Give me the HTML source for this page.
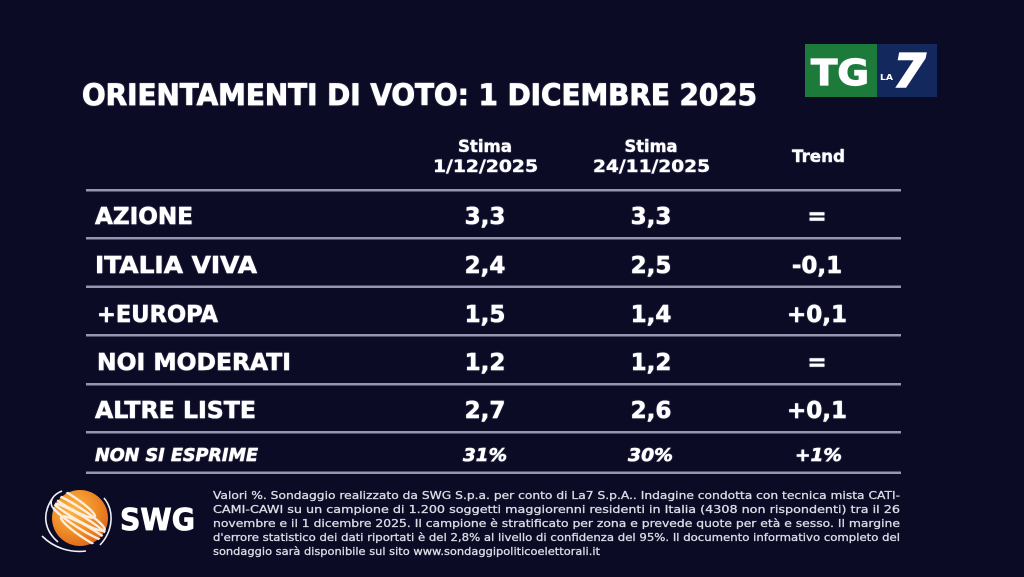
<!DOCTYPE html>
<html>
<head>
<meta charset="utf-8">
<style>
  html,body{margin:0;padding:0;background:#0b0b25;}
  body{width:1024px;height:577px;overflow:hidden;}
  svg{display:block;}
</style>
</head>
<body>
<svg width="1024" height="577" viewBox="0 0 1024 577" xmlns="http://www.w3.org/2000/svg">
  <defs>
    <radialGradient id="og" cx="0.38" cy="0.35" r="0.75">
      <stop offset="0" stop-color="#fbb548"/>
      <stop offset="0.55" stop-color="#f08c27"/>
      <stop offset="1" stop-color="#d8621a"/>
    </radialGradient>
    <clipPath id="globeClip"><circle cx="80" cy="518" r="29"/></clipPath>
    <filter id="glow" x="-5%" y="-20%" width="110%" height="140%">
      <feGaussianBlur in="SourceAlpha" stdDeviation="0.8" result="b"/>
      <feFlood flood-color="#8890c0" flood-opacity="0.5"/>
      <feComposite in2="b" operator="in" result="s"/>
      <feMerge><feMergeNode in="s"/><feMergeNode in="SourceGraphic"/></feMerge>
    </filter>
  </defs>

  <rect width="1024" height="577" fill="#0b0b25"/>

  <!-- TG LA7 logo -->
  <rect x="805" y="44" width="72" height="53" fill="#1c7a3b"/>
  <rect x="877" y="44" width="60" height="53" fill="#13295d"/>
  <text x="811" y="85" font-family="'DejaVu Sans','Liberation Sans',sans-serif" font-weight="bold" font-size="36" fill="#fff" stroke="#fff" stroke-width="1.2" textLength="58" lengthAdjust="spacingAndGlyphs">TG</text>
  <text x="880" y="80" font-family="'DejaVu Sans','Liberation Sans',sans-serif" font-weight="bold" font-size="8" fill="#fff" textLength="13" lengthAdjust="spacingAndGlyphs">LA</text>
  <text x="893" y="87" font-family="'DejaVu Sans','Liberation Sans',sans-serif" font-weight="bold" font-style="italic" font-size="46" fill="#fff" stroke="#fff" stroke-width="1.5" textLength="33" lengthAdjust="spacingAndGlyphs">7</text>

  <g font-family="'DejaVu Sans','Liberation Sans',sans-serif" font-weight="bold" fill="#ffffff" stroke="#ffffff" stroke-width="0.5" filter="url(#glow)">
    <!-- Title -->
    <text x="82" y="105" font-size="29" stroke-width="0.8" textLength="675" lengthAdjust="spacingAndGlyphs">ORIENTAMENTI DI VOTO: 1 DICEMBRE 2025</text>

    <!-- Header -->
    <g stroke-width="0.3">
    <text x="485" y="152" font-size="16.5" text-anchor="middle" textLength="54" lengthAdjust="spacingAndGlyphs">Stima</text>
    <text x="485.5" y="172" font-size="16.5" text-anchor="middle" textLength="105" lengthAdjust="spacingAndGlyphs">1/12/2025</text>
    <text x="651" y="152" font-size="16.5" text-anchor="middle" textLength="53" lengthAdjust="spacingAndGlyphs">Stima</text>
    <text x="651.5" y="172" font-size="16.5" text-anchor="middle" textLength="117" lengthAdjust="spacingAndGlyphs">24/11/2025</text>
    <text x="818.5" y="162" font-size="16.5" text-anchor="middle" textLength="53" lengthAdjust="spacingAndGlyphs">Trend</text>
    </g>

    <!-- Row labels -->
    <text x="95" y="224" font-size="23" textLength="98" lengthAdjust="spacingAndGlyphs">AZIONE</text>
    <text x="95" y="273" font-size="23" textLength="162" lengthAdjust="spacingAndGlyphs">ITALIA VIVA</text>
    <text x="97" y="322" font-size="23" textLength="121" lengthAdjust="spacingAndGlyphs">+EUROPA</text>
    <text x="97" y="370" font-size="23" textLength="194" lengthAdjust="spacingAndGlyphs">NOI MODERATI</text>
    <text x="95" y="418" font-size="23" textLength="161" lengthAdjust="spacingAndGlyphs">ALTRE LISTE</text>
    <text x="95" y="461" font-size="17.5" font-style="italic" textLength="163" lengthAdjust="spacingAndGlyphs">NON SI ESPRIME</text>

    <!-- Values -->
    <g font-size="23" text-anchor="middle">
      <text x="485" y="224">3,3</text><text x="651" y="224">3,3</text><text x="817" y="224">=</text>
      <text x="485" y="273">2,4</text><text x="651" y="273">2,5</text><text x="817" y="273">-0,1</text>
      <text x="485" y="322">1,5</text><text x="651" y="322">1,4</text><text x="817" y="322">+0,1</text>
      <text x="485" y="370">1,2</text><text x="651" y="370">1,2</text><text x="817" y="370">=</text>
      <text x="485" y="418">2,7</text><text x="651" y="418">2,6</text><text x="817" y="418">+0,1</text>
    </g>
    <g font-size="17.5" font-style="italic" text-anchor="middle">
      <text x="485" y="461" textLength="44" lengthAdjust="spacingAndGlyphs">31%</text>
      <text x="650.5" y="461" textLength="45" lengthAdjust="spacingAndGlyphs">30%</text>
      <text x="818.5" y="461" textLength="47" lengthAdjust="spacingAndGlyphs">+1%</text>
    </g>
  </g>

  <!-- Separator lines -->
  <g fill="#9496b2">
    <rect x="86" y="189" width="815" height="2.5"/>
    <rect x="86" y="237" width="815" height="2.5"/>
    <rect x="86" y="285.5" width="815" height="2.5"/>
    <rect x="86" y="334" width="815" height="2.5"/>
    <rect x="86" y="383" width="815" height="2.5"/>
    <rect x="86" y="431" width="815" height="2.5"/>
    <rect x="86" y="471.5" width="815" height="2.5"/>
  </g>

  <!-- SWG logo -->
  <circle cx="80" cy="518" r="28" fill="url(#og)"/>
  <g clip-path="url(#globeClip)" fill="none" stroke="#fff3e6" stroke-width="2.4" opacity="0.95">
    <ellipse cx="66" cy="499" rx="34" ry="6" transform="rotate(32 66 499)"/>
    <ellipse cx="74" cy="511" rx="36" ry="6" transform="rotate(32 74 511)"/>
    <ellipse cx="82" cy="523" rx="36" ry="6" transform="rotate(32 82 523)"/>
    <ellipse cx="90" cy="535" rx="34" ry="6" transform="rotate(32 90 535)"/>
  </g>
  <g fill="none" stroke="#f0f0f6" stroke-width="1.6">
    <path d="M 62 491 C 50 496, 48 505, 56 511"/>
    <path d="M 52 499 C 42 514, 44 530, 58 542"/>
    <path d="M 104 498 C 114 510, 114 530, 100 545"/>
    <path d="M 42 536 C 54 548, 70 553, 86 551"/>
  </g>
  <text x="120" y="530" font-family="'DejaVu Sans','Liberation Sans',sans-serif" font-weight="bold" font-size="30" fill="#fff" stroke="#fff" stroke-width="0.8" textLength="75" lengthAdjust="spacingAndGlyphs">SWG</text>

  <!-- Footer text -->
  <g font-family="'DejaVu Sans','Liberation Sans',sans-serif" font-size="11" fill="#dcdce6" stroke="#dcdce6" stroke-width="0.3">
    <text x="213" y="499" textLength="687" lengthAdjust="spacingAndGlyphs">Valori %. Sondaggio realizzato da SWG S.p.a. per conto di La7 S.p.A.. Indagine condotta con tecnica mista CATI-</text>
    <text x="213" y="513" textLength="687" lengthAdjust="spacingAndGlyphs">CAMI-CAWI su un campione di 1.200 soggetti maggiorenni residenti in Italia (4308 non rispondenti) tra il 26</text>
    <text x="213" y="527" textLength="687" lengthAdjust="spacingAndGlyphs">novembre e il 1 dicembre 2025. Il campione è stratificato per zona e prevede quote per età e sesso. Il margine</text>
    <text x="213" y="541" textLength="687" lengthAdjust="spacingAndGlyphs">d'errore statistico dei dati riportati è del 2,8% al livello di confidenza del 95%. Il documento informativo completo del</text>
    <text x="213" y="555" textLength="387" lengthAdjust="spacingAndGlyphs">sondaggio sarà disponibile sul sito www.sondaggipoliticoelettorali.it</text>
  </g>
</svg>
</body>
</html>
